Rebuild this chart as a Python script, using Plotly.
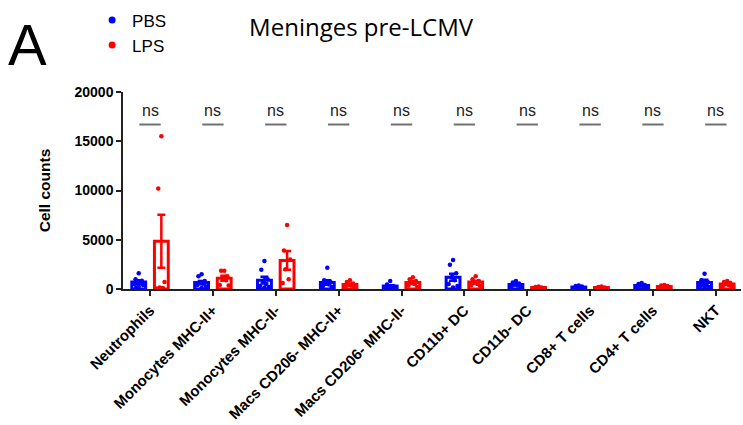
import plotly.graph_objects as go

categories = ["Neutrophils", "Monocytes MHC-II+", "Monocytes MHC-II-", "Macs CD206- MHC-II+",
              "Macs CD206- MHC-II-", "CD11b+ DC", "CD11b- DC", "CD8+ T cells", "CD4+ T cells", "NKT"]

pbs_mean = [700, 650, 900, 650, 300, 1200, 450, 200, 350, 650]
pbs_sem = [180, 170, 350, 230, 90, 350, 80, 40, 70, 300]
lps_mean = [4850, 1100, 2900, 450, 650, 700, 150, 150, 250, 500]
lps_sem = [2700, 250, 950, 100, 150, 150, 40, 40, 50, 100]

pbs_points = [
    [1600, 1000, 850, 700, 600, 500, 400, 250, 150],
    [1500, 1300, 800, 700, 550, 400, 250, 100],
    [2850, 1950, 1000, 800, 500, 300, 200, 150],
    [2150, 900, 700, 550, 450, 300, 200],
    [800, 450, 300, 200, 150, 100, 50],
    [2950, 2450, 1600, 1200, 900, 500, 300, 150],
    [800, 650, 550, 450, 350, 250, 150],
    [350, 300, 250, 200, 150, 100, 50],
    [600, 500, 400, 350, 300, 200, 150],
    [1550, 900, 700, 550, 450, 300, 200, 150],
]
lps_points = [
    [15500, 10200, 700, 150, 100, 50],
    [1850, 1850, 1300, 1100, 900, 400, 350],
    [6500, 3900, 3000, 2000, 1000, 600],
    [900, 700, 550, 450, 350, 200, 100],
    [1200, 1000, 800, 650, 500, 350, 200],
    [1300, 1000, 800, 650, 500, 400, 300],
    [250, 200, 150, 150, 100, 50],
    [250, 200, 150, 150, 100, 50],
    [400, 350, 300, 250, 200, 100],
    [800, 700, 600, 500, 400, 300, 200],
]
sig_labels = ["ns"] * 10
y_ticks = [0, 5000, 10000, 15000, 20000]

BLUE = "#0000FF"
RED = "#FF0000"
FONT = "Liberation Sans"
OFF = 0.18
BW = 0.22
JIT = [0.0, -0.05, 0.05, -0.025, 0.025, -0.07, 0.07, 0.0, -0.04, 0.04]

fig = go.Figure()
idx = list(range(len(categories)))

fig.add_trace(go.Bar(x=[i - OFF for i in idx], y=pbs_mean, width=BW,
                     marker=dict(color="white", line=dict(color=BLUE, width=3)),
                     error_y=dict(type="data", array=pbs_sem, color=BLUE, thickness=2.5, width=4),
                     showlegend=False))
fig.add_trace(go.Bar(x=[i + OFF for i in idx], y=lps_mean, width=BW,
                     marker=dict(color="white", line=dict(color=RED, width=3)),
                     error_y=dict(type="data", array=lps_sem, color=RED, thickness=2.5, width=4),
                     showlegend=False))

for pts, sign, col in [(pbs_points, -1, BLUE), (lps_points, 1, RED)]:
    xs, ys = [], []
    for i, vals in enumerate(pts):
        for k, v in enumerate(vals):
            xs.append(i + sign * OFF + JIT[k % len(JIT)])
            ys.append(v)
    fig.add_trace(go.Scatter(x=xs, y=ys, mode="markers",
                             marker=dict(color=col, size=4.5), showlegend=False))

fig.add_trace(go.Scatter(x=[None], y=[None], mode="markers", name="PBS",
                         marker=dict(color=BLUE, size=7)))
fig.add_trace(go.Scatter(x=[None], y=[None], mode="markers", name="LPS",
                         marker=dict(color=RED, size=7)))

for i, lab in enumerate(sig_labels):
    fig.add_annotation(x=i, y=18100, xref="x", yref="y", text=lab, showarrow=False,
                       font=dict(family=FONT, size=16, color="#222222"),
                       yanchor="middle")
    fig.add_shape(type="line", x0=i - 0.17, x1=i + 0.17, y0=16700, y1=16700,
                  xref="x", yref="y", line=dict(color="#707070", width=2))

fig.add_annotation(x=-0.155, y=1.24, xref="paper", yref="paper", text="A", showarrow=False,
                   font=dict(family=FONT, size=58, color="black"),
                   xanchor="center", yanchor="middle")

fig.update_layout(
    width=743, height=425,
    margin=dict(l=123, r=2, t=90, b=136),
    paper_bgcolor="white", plot_bgcolor="white",
    barmode="overlay",
    title=dict(text="Meninges pre-LCMV", x=0.486, y=0.934, xanchor="center", yanchor="middle",
               font=dict(family="Open Sans", size=24, color="black")),
    legend=dict(x=-0.05, y=1.455, xanchor="left", yanchor="top",
                font=dict(family=FONT, size=17, color="black"),
                bgcolor="rgba(0,0,0,0)", tracegroupgap=0, itemwidth=30),
    xaxis=dict(range=[-0.43, 9.4], tickvals=idx, ticktext=categories, tickangle=-45,
               showline=True, linecolor="#222222", linewidth=1.5, ticks="outside",
               ticklen=5, tickcolor="#222222", tickwidth=1.5, showgrid=False, zeroline=False,
               tickfont=dict(family=FONT, size=15, color="black", weight="bold")),
    yaxis=dict(range=[0, 20000], tickvals=y_ticks, ticktext=[str(v) for v in y_ticks],
               showline=True, linecolor="#222222", linewidth=1.5, ticks="outside",
               ticklen=5, tickcolor="#222222", tickwidth=1.5, showgrid=False, zeroline=False,
               tickfont=dict(family=FONT, size=14, color="black", weight="bold"),
               title=dict(text="Cell counts", standoff=20,
                          font=dict(family=FONT, size=15.5, color="black", weight="bold"))),
)

fig.write_html("out.html")
